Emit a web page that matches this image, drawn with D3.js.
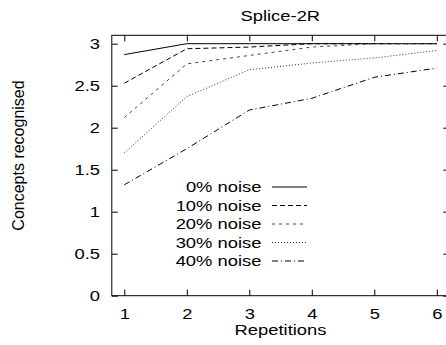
<!DOCTYPE html>
<html><head><meta charset="utf-8">
<script src="https://cdn.jsdelivr.net/npm/d3@7"></script>
<style>
html,body{margin:0;padding:0;background:#fff;overflow:hidden}
svg{display:block}
text{font-family:"Liberation Sans",Arial,Helvetica,sans-serif;fill:#000}
</style></head>
<body><div id="chart"></div>
<script>
const repetitions = [1, 2, 3, 4, 5, 6];
const seriesNames = ["0% noise", "10% noise", "20% noise", "30% noise", "40% noise"];
const noise0  = [2.87, 3.00, 3.00, 3.00, 3.00, 3.00];
const noise10 = [2.53, 2.94, 2.96, 3.00, 3.00, 3.00];
const noise20 = [2.12, 2.76, 2.86, 2.96, 3.00, 3.00];
const noise30 = [1.70, 2.37, 2.69, 2.77, 2.83, 2.92];
const noise40 = [1.32, 1.75, 2.21, 2.35, 2.60, 2.71];
const yTicks = [0, 0.5, 1, 1.5, 2, 2.5, 3];
const xTicks = [1, 2, 3, 4, 5, 6];
const title = "Splice-2R";
const xLabel = "Repetitions";
const yLabel = "Concepts recognised";

const seriesValues = [noise0, noise10, noise20, noise30, noise40];
const dashes = ["none", "5,3", "3,4", "1,2", "6,3,1,3"];
const strokes = ["#000", "#000", "#444", "#333", "#000"];

const W = 446, H = 345;
const FS = 14.6, SX = 1.26; // font size and horizontal stretch of the original
const svg = d3.select("#chart").append("svg").attr("width", W).attr("height", H);

const x = d3.scaleLinear().domain([0.8, 6.2]).range([111.8, 449.3]);
const y = d3.scaleLinear().domain([0, 3.1]).range([295.7, 35.3]);

const pL = x.range()[0], pR = x.range()[1], pT = y.range()[1], pB = y.range()[0];

const xAxisB = d3.axisBottom(x).tickValues(xTicks).tickSize(-6).tickPadding(13).tickFormat(d3.format("d"));
const xAxisT = d3.axisTop(x).tickValues(xTicks).tickSize(-6).tickFormat("");
const yAxisL = d3.axisLeft(y).tickValues(yTicks).tickSize(-6).tickPadding(11.8).tickFormat(d => d3.format("")(d));
const yAxisR = d3.axisRight(y).tickValues(yTicks).tickSize(-6).tickFormat("");

function style(g){
  g.selectAll(".domain").remove();
  g.selectAll(".tick line").attr("stroke", "#000").attr("stroke-width", 1);
  g.selectAll(".tick text")
    .attr("font-size", FS).attr("font-family", '"Liberation Sans",Arial,sans-serif').attr("fill", "#000")
    .attr("x", function(){ return (+d3.select(this).attr("x") || 0) / SX; })
    .attr("transform", `scale(${SX},1)`);
}
svg.append("g").attr("transform", `translate(0,${pB})`).call(xAxisB).call(style);
svg.append("g").attr("transform", `translate(0,${pT})`).call(xAxisT).call(style);
svg.append("g").attr("transform", `translate(${pL},0)`).call(yAxisL).call(style);
svg.append("g").attr("transform", `translate(${pR},0)`).call(yAxisR).call(style);

svg.append("rect").attr("x", pL).attr("y", pT).attr("width", pR - pL).attr("height", pB - pT)
  .attr("fill", "none").attr("stroke", "#000").attr("stroke-width", 1);

const line = d3.line().x((d, i) => x(repetitions[i])).y(d => y(d));
seriesValues.forEach((vals, k) => {
  svg.append("path").datum(vals).attr("d", line).attr("fill", "none")
    .attr("stroke", strokes[k]).attr("stroke-width", 1)
    .attr("stroke-dasharray", dashes[k]);
});

function stretchedText(tx, ty, anchor, str){
  return svg.append("text").attr("transform", `translate(${tx},${ty}) scale(${SX},1)`)
    .attr("text-anchor", anchor).attr("font-size", FS).text(str);
}

const legY = d3.scalePoint().domain(seriesNames).range([187, 261]);
seriesNames.forEach((name, k) => {
  const cy = legY(name);
  stretchedText(261.5, cy, "end", name).attr("dy", "0.36em");
  svg.append("line").attr("x1", 272).attr("x2", 307).attr("y1", cy).attr("y2", cy)
    .attr("stroke", strokes[k]).attr("stroke-width", 1).attr("stroke-dasharray", dashes[k]);
});

stretchedText(280.3, 21, "middle", title);
stretchedText(280.5, 334.5, "middle", xLabel);
svg.append("text").attr("transform", `translate(23.5,155.5) rotate(-90)`)
  .attr("text-anchor", "middle").attr("font-size", 16).text(yLabel);
</script></body></html>
